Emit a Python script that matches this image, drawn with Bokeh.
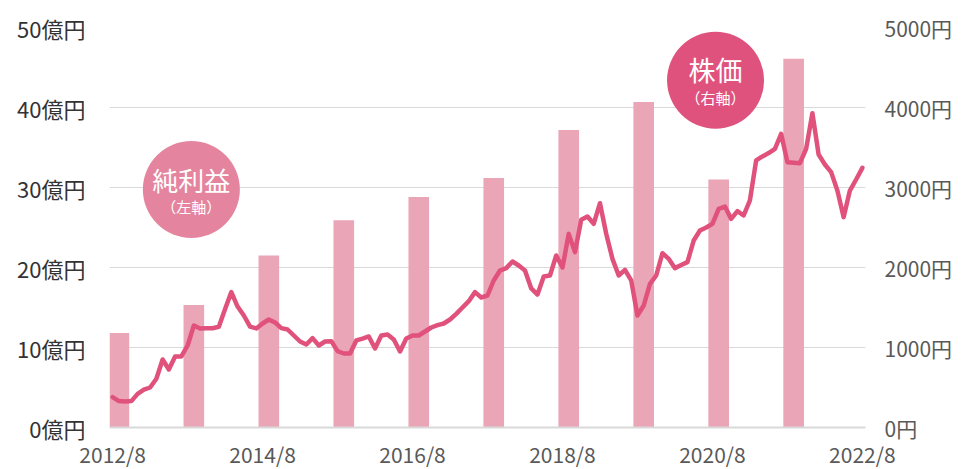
from bokeh.plotting import figure
from bokeh.models import (Range1d, LinearAxis, FixedTicker, PrintfTickFormatter,
                          ColumnDataSource, Label)
from bokeh.embed import file_html
from bokeh.resources import INLINE

# ---- data ----
# month index 0 = 2012/8 ... 120 = 2022/8
x_tick_pos = [0, 24, 48, 72, 96, 120]
x_tick_labels = ["2012/8", "2014/8", "2016/8", "2018/8", "2020/8", "2022/8"]

# annual net income (億円), bars
bar_month = [1, 13, 25, 37, 49, 61, 73, 85, 97, 109]
net_income = [11.8, 15.3, 21.5, 25.9, 28.8, 31.2, 37.2, 40.7, 31.0, 46.1]

# monthly stock price (円)
price = [379, 330, 325, 330, 420, 472, 500, 610, 850, 725,
         888, 888, 1025, 1275, 1238, 1240, 1240, 1260, 1480, 1692,
         1512, 1400, 1262, 1238, 1300, 1350, 1312, 1242, 1225, 1150,
         1075, 1038, 1117, 1025, 1075, 1079, 954, 925, 925, 1088,
         1112, 1138, 988, 1150, 1162, 1100, 950, 1112, 1150, 1150,
         1200, 1250, 1280, 1300, 1350, 1420, 1500, 1579, 1692, 1625,
         1650, 1838, 1962, 1992, 2075, 2025, 1962, 1738, 1662, 1888,
         1900, 2150, 2000, 2420, 2192, 2596, 2638, 2546, 2804, 2421,
         2108, 1900, 1971, 1838, 1400, 1525, 1796, 1900, 2179, 2108,
         1992, 2030, 2067, 2337, 2462, 2500, 2546, 2733, 2762, 2608,
         2704, 2650, 2838, 3338, 3388, 3430, 3483, 3671, 3317, 3310,
         3304, 3483, 3929, 3412, 3287, 3192, 2962, 2629, 2962, 3100,
         3246]
months = list(range(len(price)))

left_ticks = [0, 10, 20, 30, 40, 50]
right_ticks = [0, 1000, 2000, 3000, 4000, 5000]

FONT = "Noto Sans CJK JP"
BAR_COLOR = "#eaa5b6"
LINE_COLOR = "#e0527c"

p = figure(frame_width=756, frame_height=400, output_backend="svg",
           toolbar_location=None, x_range=Range1d(-0.5, 120.5),
           y_range=Range1d(0, 50),
           min_border_left=109, min_border_right=101,
           min_border_top=27, min_border_bottom=42)
p.outline_line_color = None
p.background_fill_color = "white"
p.border_fill_color = "white"

p.extra_y_ranges = {"price": Range1d(0, 5000)}

# grid
p.xgrid.grid_line_color = None
p.ygrid.ticker = FixedTicker(ticks=left_ticks)
p.ygrid.grid_line_color = "#d9d9d9"
p.ygrid.grid_line_width = 1.2

# left axis
ya = p.yaxis[0]
ya.ticker = FixedTicker(ticks=left_ticks)
ya.formatter = PrintfTickFormatter(format="%d億円")
ya.axis_line_color = None
ya.major_tick_line_color = None
ya.minor_tick_line_color = None
ya.major_tick_in = 0
ya.major_tick_out = 0
ya.major_label_standoff = 24
ya.major_label_text_font = FONT
ya.major_label_text_font_size = "22px"
ya.major_label_text_color = "#333333"

# right axis
ra = LinearAxis(y_range_name="price", ticker=FixedTicker(ticks=right_ticks),
                formatter=PrintfTickFormatter(format="%d円"))
ra.axis_line_color = None
ra.major_tick_line_color = None
ra.minor_tick_line_color = None
ra.major_tick_in = 0
ra.major_tick_out = 0
ra.major_label_standoff = 19
ra.major_label_text_font = FONT
ra.major_label_text_font_size = "21px"
ra.major_label_text_color = "#595959"
p.add_layout(ra, "right")

# x axis
xa = p.xaxis[0]
xa.ticker = FixedTicker(ticks=x_tick_pos)
xa.major_label_overrides = {k: v for k, v in zip(x_tick_pos, x_tick_labels)}
xa.axis_line_color = "#d9d9d9"
xa.axis_line_width = 2
xa.major_tick_line_color = None
xa.minor_tick_line_color = None
xa.major_tick_in = 0
xa.major_tick_out = 0
xa.major_label_standoff = 11
xa.major_label_text_font = FONT
xa.major_label_text_font_size = "21px"
xa.major_label_text_color = "#595959"

# bars
bsrc = ColumnDataSource(dict(x=bar_month, top=net_income))
p.vbar(x="x", top="top", width=3.3, source=bsrc, fill_color=BAR_COLOR,
       line_color=None)

# price line
lsrc = ColumnDataSource(dict(x=months, y=price))
p.line(x="x", y="y", source=lsrc, y_range_name="price", line_color=LINE_COLOR,
       line_width=4.5, line_join="round", line_cap="round")

# annotation bubbles
p.scatter(x=[12.6], y=[29.75], size=97, marker="circle",
          fill_color="#e5849e", line_color=None)
p.scatter(x=[96.5], y=[43.4], size=97, marker="circle",
          fill_color="#e0527e", line_color=None)

for (x, y, txt, sz) in [(12.6, 31.0, "純利益", "26px"),
                        (12.6, 27.6, "（左軸）", "15px"),
                        (96.5, 44.7, "株価", "27px"),
                        (96.5, 41.3, "（右軸）", "15px")]:
    p.add_layout(Label(x=x, y=y, text=txt, text_font=FONT,
                       text_font_size=sz, text_color="white",
                       text_align="center", text_baseline="middle"))

open("out.html", "w").write(file_html(p, INLINE))
